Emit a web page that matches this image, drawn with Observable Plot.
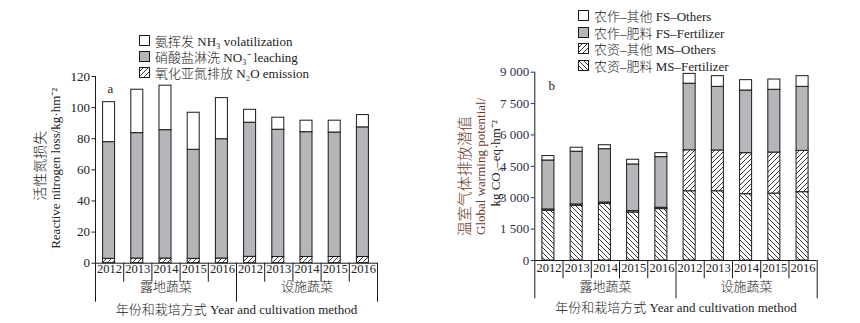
<!DOCTYPE html>
<html><head><meta charset="utf-8">
<script src="https://cdn.jsdelivr.net/npm/d3@7"></script>
<script src="https://cdn.jsdelivr.net/npm/@observablehq/plot@0.6"></script>
<style>
body{margin:0;background:#fff;}
#wrap{position:relative;width:860px;height:323px;overflow:hidden;font-family:"Liberation Serif","Noto Sans CJK SC",serif;font-weight:300;color:#222;background:#fff;}
.panel{position:absolute;top:0;width:430px;height:323px;}
.row{position:absolute;height:16px;display:flex;align-items:center;font-size:13px;white-space:nowrap;color:#222;}
.row svg{margin-right:5px;flex:none;}
</style></head><body>
<svg width="0" height="0" style="position:absolute">
<defs>
<pattern id="hFwd" patternUnits="userSpaceOnUse" width="5" height="5"><rect width="5" height="5" fill="#fff"/><path d="M-1,1 l2,-2 M0,5 l5,-5 M4,6 l2,-2" stroke="#222" stroke-width="0.9"/></pattern>
<pattern id="hBack" patternUnits="userSpaceOnUse" width="5" height="5"><rect width="5" height="5" fill="#fff"/><path d="M-1,4 l2,2 M0,0 l5,5 M4,-1 l2,2" stroke="#222" stroke-width="0.9"/></pattern>
</defs></svg>
<div id="wrap">
  <div id="pa" class="panel" style="left:0"></div>
  <div id="pb" class="panel" style="left:430px"></div>
</div>
<script>
// ---------- data ----------
const years = ["2012","2013","2014","2015","2016","2012","2013","2014","2015","2016"];
const groups = ["露地蔬菜","设施蔬菜"];
const xTitle = "年份和栽培方式 Year and cultivation method";

// panel a: reactive nitrogen loss (kg/hm2)
const aN2O = [2.8,3.0,3.0,2.8,3.0,4.1,4.0,4.0,4.0,4.0];
const aNO3 = [75.0,80.6,82.5,70.1,76.7,86.2,81.8,80.2,80.0,83.3];
const aNH3 = [25.7,27.9,28.6,23.8,26.4,8.3,7.7,7.4,7.6,7.9];
const aTicks = [0,20,40,60,80,100,120];
const aLegend = ["氨挥发 NH₃ volatilization","硝酸盐淋洗 NO₃⁻ leaching","氧化亚氮排放 N₂O emission"];
const aYTitle = ["活性氮损失","Reactive nitrogen loss/kg·hm⁻²"];

// panel b: global warming potential (kg CO2-eq/hm2)
const bMSFert  = [2380,2615,2710,2295,2455,3310,3310,3170,3200,3265];
const bMSOther = [60,65,65,65,65,1960,1950,1960,1960,1975];
const bFSFert  = [2340,2520,2545,2230,2420,3180,3040,2995,3000,3060];
const bFSOther = [210,190,190,225,190,470,510,495,490,510];
const bTicks = [0,1500,3000,4500,6000,7500,9000];
const bLegend = ["农作–其他 FS–Others","农作–肥料 FS–Fertilizer","农资–其他 MS–Others","农资–肥料 MS–Fertilizer"];
const bYTitle = ["温室气体排放潜值","Global warming potential/","kg CO₂–eq·hm⁻²"];

const GRAY = "#b5b6ba";
const idx = d3.range(years.length);

function stackSegs(series) {
  const out = [];
  idx.forEach(i => {
    let acc = 0;
    series.forEach(s => { const v = s.values[i]; out.push({i, name: s.name, y1: acc, y2: acc + v}); acc += v; });
  });
  return out;
}

function makePanel(cfg) {
  const segs = stackSegs(cfg.series);
  const marks = [];
  cfg.series.forEach(s => {
    marks.push(Plot.rectY(segs.filter(d => d.name === s.name), {
      x1: d => d.i, x2: d => d.i + 1, y1: "y1", y2: "y2",
      fill: s.fill, stroke: "#1a1a1a", strokeWidth: 1, insetLeft: 7.6, insetRight: 8.6
    }));
  });
  marks.push(
    Plot.ruleX([0], {stroke: "#1a1a1a"}),
    Plot.ruleY([0], {stroke: "#1a1a1a"}),
    Plot.axisY({ticks: cfg.ticks, tickSize: 3.5, tickPadding: 2, label: null, tickFormat: cfg.tickFormat, color: cfg.tickColor, fontSize: 13}),
    Plot.axisX({ticks: [1,2,3,4,6,7,8,9], tickSize: cfg.sep1, tickFormat: () => "", label: null, stroke: "#1a1a1a"}),
    Plot.axisX({ticks: [0,5,10], tickSize: cfg.sep2, tickFormat: () => "", label: null, stroke: "#1a1a1a"}),
    Plot.text(idx, {x: i => i + 0.5, text: i => years[i], frameAnchor: "bottom", dy: cfg.yearDy, fontSize: 12.5, fill: "#222"}),
    Plot.text(groups, {x: (d, j) => j * 5 + 2.5, text: d => d, frameAnchor: "bottom", dy: cfg.groupDy, fontSize: 13, fill: "#222"}),
    Plot.text([xTitle], {text: d => d, frameAnchor: "bottom", dy: cfg.titleDy, fontSize: 13, fill: "#222"}),
    Plot.text([cfg.label], {text: d => d, frameAnchor: "top-left", dx: cfg.labelDx, dy: cfg.labelDy, fontSize: 13, fill: "#222"})
  );
  cfg.yTitle.forEach((t, k) => {
    const p = cfg.yTitlePos[k];
    marks.push(Plot.text([t], {text: d => d, frameAnchor: "left", textAnchor: "middle", rotate: -90, dx: p[0], dy: p[1], fontSize: p[2], fill: p[3]}));
  });
  return Plot.plot({
    width: 430, height: 323,
    marginLeft: cfg.ml, marginRight: cfg.mr, marginTop: cfg.mt, marginBottom: cfg.mb,
    x: {type: "linear", domain: [0, 10]},
    y: {domain: cfg.yDomain},
    style: {fontFamily: '"Liberation Serif","Noto Sans CJK SC",serif', fontWeight: 300, background: "transparent", color: "#1a1a1a", overflow: "visible"},
    marks
  });
}

const plotA = makePanel({
  series: [
    {name: "n2o", values: aN2O, fill: "url(#hFwd)"},
    {name: "no3", values: aNO3, fill: GRAY},
    {name: "nh3", values: aNH3, fill: "#fff"}
  ],
  ticks: aTicks, yDomain: [0, 120], tickFormat: d => String(d), tickColor: "#222",
  ml: 95, mr: 53, mt: 76, mb: 60.3,
  sep1: 19, sep2: 39, yearDy: 10, groupDy: 28, titleDy: 50.6,
  label: "a", labelDx: 12, labelDy: 7.5,
  yTitle: aYTitle,
  yTitlePos: [[-55, -4, 14, "#222"], [-40, -1.5, 13, "#222"]]
});
document.getElementById("pa").appendChild(plotA);

const plotB = makePanel({
  series: [
    {name: "msf", values: bMSFert, fill: "url(#hBack)"},
    {name: "mso", values: bMSOther, fill: "url(#hFwd)"},
    {name: "fsf", values: bFSFert, fill: GRAY},
    {name: "fso", values: bFSOther, fill: "#fff"}
  ],
  ticks: bTicks, yDomain: [0, 9000], tickFormat: d => d3.format(",")(d).replace(",", " "), tickColor: "#2e2e4e",
  ml: 104.3, mr: 43.3, mt: 71.7, mb: 63,
  sep1: 18.3, sep2: 38.3, yearDy: 11, groupDy: 30, titleDy: 51.7,
  label: "b", labelDx: 13.7, labelDy: 8.8,
  yTitle: bYTitle,
  yTitlePos: [[-69.3, 10, 15, "#6b3b2c"], [-54.3, 0, 13, "#6b3b2c"], [-39.3, -3, 13, "#222"]]
});
document.getElementById("pb").appendChild(plotB);

// ---------- legends ----------
const wrap = document.getElementById("wrap");
function legendRow(x, cy, fill, text) {
  const row = document.createElement("div");
  row.className = "row";
  row.style.left = x + "px";
  row.style.top = (cy - 8) + "px";
  row.innerHTML = `<svg width="11" height="11"><rect x="0.5" y="0.5" width="10" height="10" fill="${fill}" stroke="#1a1a1a" stroke-width="1"/></svg><span>${text}</span>`;
  wrap.appendChild(row);
}
const aFills = ["#fff", GRAY, "url(#hFwd)"];
aLegend.forEach((t, k) => legendRow(139, 40.7 + k * 16, aFills[k], t));
const bFills = ["#fff", GRAY, "url(#hFwd)", "url(#hBack)"];
bLegend.forEach((t, k) => legendRow(578, 15.5 + k * 16.5, bFills[k], t));
</script>
</body></html>
